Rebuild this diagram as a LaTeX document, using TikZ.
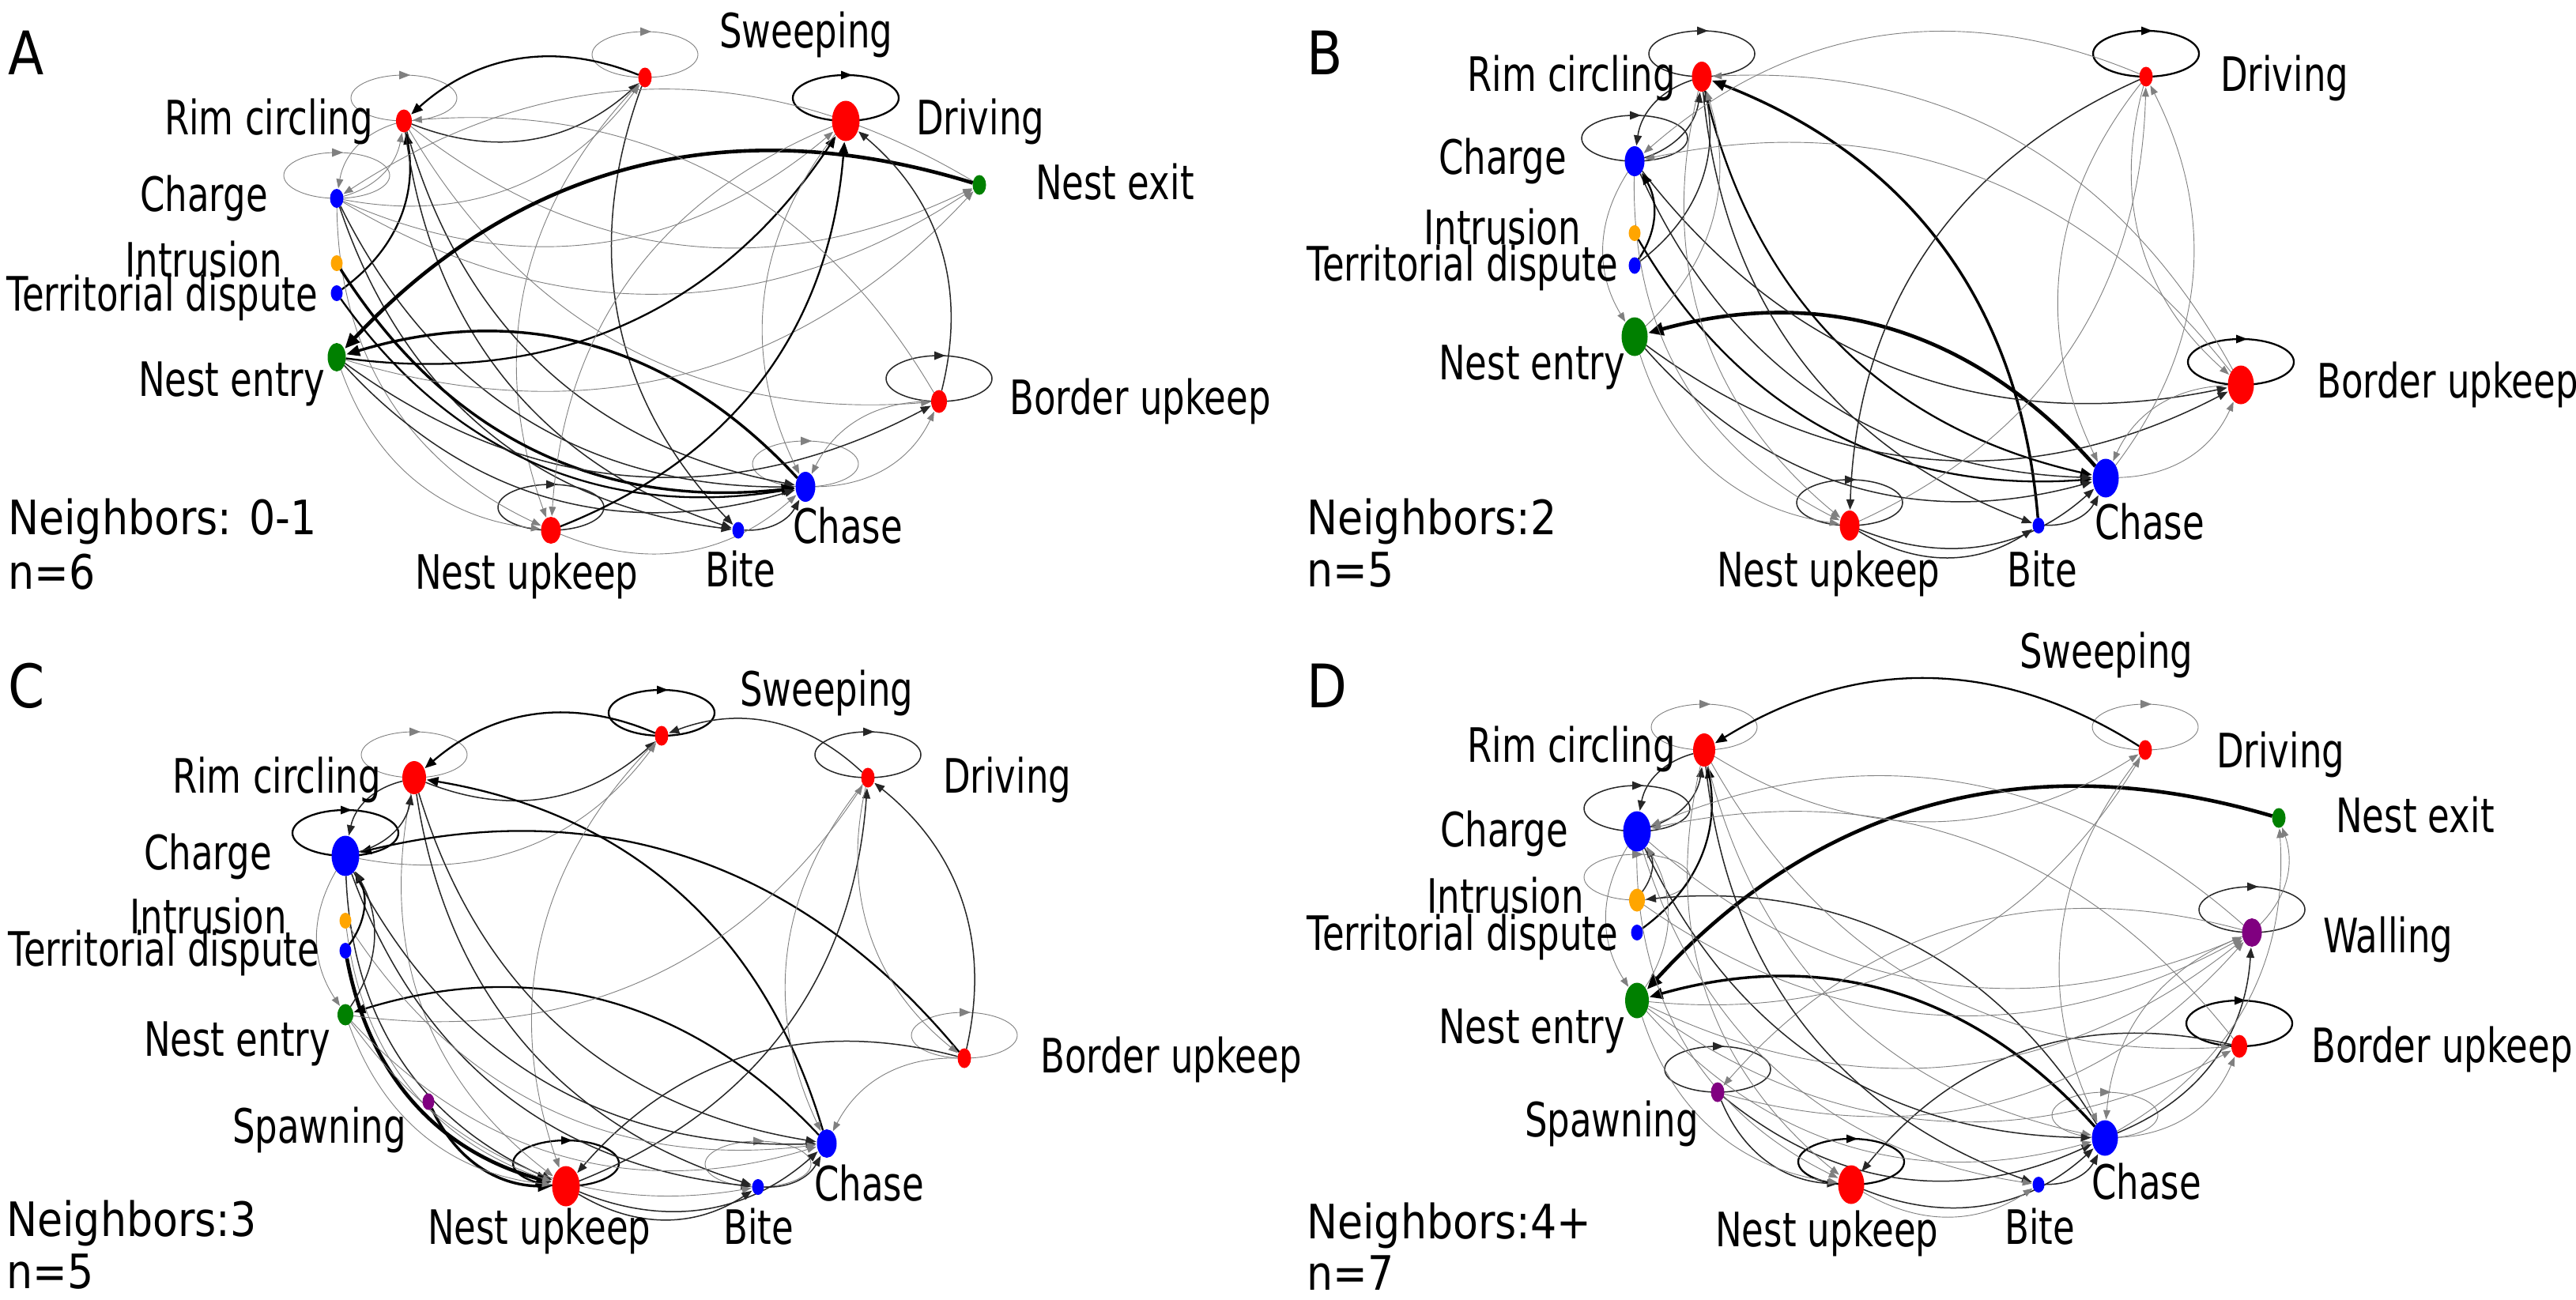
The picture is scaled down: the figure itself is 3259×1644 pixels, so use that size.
\documentclass[tikz,border=0pt]{standalone}
\usepackage{fontspec}
\setmainfont{DejaVu Sans}
\newfontfamily\labfont{DejaVu Sans}[FakeStretch=0.75]
\newfontfamily\nbfont{DejaVu Sans}[FakeStretch=0.87]
\usetikzlibrary{arrows.meta,shapes.geometric,calc}
\pgfdeclarelayer{bglayer}
\pgfdeclarelayer{edgelayer}
\pgfsetlayers{bglayer,edgelayer,main}
\definecolor{nred}{RGB}{255,0,0}
\definecolor{nblue}{RGB}{0,0,255}
\definecolor{ngreen}{RGB}{0,128,0}
\definecolor{norange}{RGB}{255,165,0}
\definecolor{npurple}{RGB}{128,0,128}
\tikzset{
  dot/.style={ellipse, inner sep=0pt, outer sep=0pt, draw=none},
  lab/.style={anchor=base west, inner sep=0pt, font=\labfont\fontsize{60}{60}\selectfont},
  nb/.style={anchor=base west, inner sep=0pt, font=\nbfont\fontsize{60}{60}\selectfont},
  plab/.style={anchor=base west, inner sep=0pt, font=\nbfont\fontsize{76}{76}\selectfont},
  ed/.style={bend right=32, -{Triangle[length=10pt 2, width=7pt 2]}, shorten >=1pt},
  w1/.style={line width=0.9pt, color=black!50},
  w2/.style={line width=1.5pt, color=black!85},
  w3/.style={line width=2.3pt, color=black},
  w4/.style={line width=3.4pt, color=black},
  w5/.style={line width=4.6pt, color=black}
}
\newcommand{\nd}[6]{\node[dot, minimum width=#4pt, minimum height=#5pt, fill=#6] (#1) at (#2,#3) {};}
\newcommand{\edg}[3]{\draw[ed,#1] (#2) to (#3);}
\newcommand{\lpp}[2]{\draw[#2] ($(#1)+(0,-29)$) ellipse [x radius=67pt, y radius=29pt];
  \fill[#2] ($(#1)+(8,-58)$) -- ($(#1)+(-6,-63.5)$) -- ($(#1)+(-6,-52.5)$) -- cycle;}
\begin{document}
\begin{tikzpicture}[x=1pt,y=-1pt]
\begin{pgfonlayer}{bglayer}
\fill[white] (0,0) rectangle (3259,1644);
\end{pgfonlayer}
\useasboundingbox (0,0) rectangle (3259,1644);

% ---------------- Panel A ----------------
\nd{aRC}{511}{153}{20}{29}{nred}
\nd{aSW}{816}{98}{17}{25}{nred}
\nd{aDR}{1070}{153}{35}{51}{nred}
\nd{aNX}{1239}{234}{17}{25}{ngreen}
\nd{aCH}{426}{251}{17}{24}{nblue}
\nd{aIN}{426}{333}{15}{20}{norange}
\nd{aTD}{426}{371}{15}{20}{nblue}
\nd{aNE}{426}{452}{23}{36}{ngreen}
\nd{aBU}{1188}{508}{20}{29}{nred}
\nd{aCS}{1019}{616}{25}{38}{nblue}
\nd{aBI}{934}{671}{15}{21}{nblue}
\nd{aNU}{697}{671}{25}{34}{nred}
\node[plab] (aP) at (10,94) {A};
\node[lab] (aRCl) at (208,170) {Rim circling};
\node[lab] (aSWl) at (910,60) {Sweeping};
\node[lab] (aDRl) at (1159,170) {Driving};
\node[lab] (aNXl) at (1310,252) {Nest exit};
\node[lab] (aCHl) at (177,267) {Charge};
\node[lab] (aINl) at (158,350) {Intrusion};
\node[lab] (aTDl) at (8,393) {Territorial dispute};
\node[lab] (aNEl) at (175,501) {Nest entry};
\node[lab] (aBUl) at (1277,524) {Border upkeep};
\node[lab] (aCSl) at (1003,687) {Chase};
\node[lab] (aBIl) at (892,742) {Bite};
\node[lab] (aNUl) at (525,745) {Nest upkeep};
\node[nb] (aNb) at (10,676) {Neighbors: 0-1};
\node[nb] (aN) at (10,745) {n=6};
\begin{pgfonlayer}{edgelayer}
\lpp{aRC}{w1}\lpp{aCH}{w1}\lpp{aSW}{w1}\lpp{aDR}{w3}\lpp{aBU}{w2}\lpp{aCS}{w1}\lpp{aNU}{w2}
\edg{w3}{aSW}{aRC}
\edg{w2}{aRC}{aSW}
\edg{w1}{aCH}{aSW}
\edg{w1}{aSW}{aNU}
\edg{w2}{aSW}{aBI}
\edg{w1}{aRC}{aCH}
\edg{w1}{aCH}{aRC}
\edg{w3}{aTD}{aRC}
\edg{w2}{aRC}{aCS}
\edg{w2}{aRC}{aBI}
\edg{w1}{aRC}{aBU}
\edg{w1}{aRC}{aNX}
\edg{w2}{aCH}{aCS}
\edg{w1}{aCH}{aNU}
\edg{w2}{aCH}{aBI}
\edg{w1}{aCH}{aNX}
\edg{w1}{aNX}{aCH}
\edg{w1}{aCH}{aDR}
\edg{w4}{aIN}{aCS}
\edg{w3}{aTD}{aCS}
\edg{w2}{aNE}{aCS}
\edg{w4}{aCS}{aNE}
\edg{w3}{aNE}{aDR}
\edg{w2}{aNE}{aBU}
\edg{w1}{aNE}{aNX}
\edg{w1}{aNE}{aNU}
\edg{w5}{aNX}{aNE}
\edg{w1}{aDR}{aCS}
\edg{w2}{aBU}{aDR}
\edg{w3}{aNU}{aDR}
\edg{w1}{aCS}{aBU}
\edg{w1}{aBU}{aCS}
\edg{w1}{aBU}{aRC}
\edg{w2}{aBI}{aCS}
\edg{w1}{aNU}{aCS}
\edg{w1}{aDR}{aNU}
\end{pgfonlayer}

% ---------------- Panel B ----------------
\nd{bRC}{2153}{97}{25}{38}{nred}
\nd{bDR}{2715}{97}{17}{25}{nred}
\nd{bCH}{2068}{204}{25}{38}{nblue}
\nd{bIN}{2068}{295}{15}{20}{norange}
\nd{bTD}{2068}{336}{15}{21}{nblue}
\nd{bNE}{2068}{426}{33}{49}{ngreen}
\nd{bBU}{2835}{487}{33}{49}{nred}
\nd{bCS}{2664}{605}{33}{49}{nblue}
\nd{bBI}{2579}{665}{15}{20}{nblue}
\nd{bNU}{2340}{665}{25}{38}{nred}
\node[plab] (bP) at (1653,94) {B};
\node[lab] (bRCl) at (1856,115) {Rim circling};
\node[lab] (bDRl) at (2809,115) {Driving};
\node[lab] (bCHl) at (1820,220) {Charge};
\node[lab] (bINl) at (1801,309) {Intrusion};
\node[lab] (bTDl) at (1653,355) {Territorial dispute};
\node[lab] (bNEl) at (1820,480) {Nest entry};
\node[lab] (bBUl) at (2931,503) {Border upkeep};
\node[lab] (bCSl) at (2650,682) {Chase};
\node[lab] (bBIl) at (2539,742) {Bite};
\node[lab] (bNUl) at (2172,742) {Nest upkeep};
\node[nb] (bNb) at (1653,676) {Neighbors:2};
\node[nb] (bN) at (1653,742) {n=5};
\begin{pgfonlayer}{edgelayer}
\lpp{bRC}{w2}\lpp{bCH}{w2}\lpp{bDR}{w3}\lpp{bBU}{w3}\lpp{bNU}{w2}
\edg{w5}{bCS}{bNE}
\edg{w4}{bBI}{bRC}
\edg{w3}{bRC}{bCS}
\edg{w3}{bIN}{bCS}
\edg{w2}{bCH}{bCS}
\edg{w2}{bNE}{bCS}
\edg{w2}{bNE}{bBU}
\edg{w2}{bCH}{bBU}
\edg{w2}{bRC}{bBI}
\edg{w3}{bTD}{bCH}
\edg{w2}{bRC}{bCH}
\edg{w2}{bCH}{bRC}
\edg{w2}{bTD}{bRC}
\edg{w1}{bNE}{bRC}
\edg{w1}{bCH}{bNE}
\edg{w1}{bRC}{bNU}
\edg{w1}{bCH}{bNU}
\edg{w1}{bNE}{bNU}
\edg{w2}{bNU}{bBI}
\edg{w2}{bNU}{bCS}
\edg{w2}{bBI}{bCS}
\edg{w1}{bCS}{bBU}
\edg{w1}{bBU}{bCS}
\edg{w1}{bDR}{bCS}
\edg{w1}{bCS}{bDR}
\edg{w1}{bDR}{bBU}
\edg{w2}{bDR}{bNU}
\edg{w1}{bNU}{bDR}
\edg{w1}{bDR}{bCH}
\edg{w1}{bBU}{bRC}
\edg{w1}{bBU}{bCH}
\end{pgfonlayer}

% ---------------- Panel C ----------------
\nd{cRC}{524}{984}{30}{42}{nred}
\nd{cSW}{837}{931}{17}{25}{nred}
\nd{cDR}{1098}{984}{17}{25}{nred}
\nd{cCH}{437}{1083}{35}{51}{nblue}
\nd{cIN}{437}{1165}{15}{20}{norange}
\nd{cTD}{437}{1203}{15}{20}{nblue}
\nd{cNE}{437}{1284}{20}{27}{ngreen}
\nd{cSP}{542}{1394}{15}{21}{npurple}
\nd{cNU}{716}{1501}{35}{51}{nred}
\nd{cBI}{959}{1502}{15}{20}{nblue}
\nd{cCS}{1046}{1447}{25}{36}{nblue}
\nd{cBU}{1220}{1339}{17}{25}{nred}
\node[plab] (cP) at (10,895) {C};
\node[lab] (cSWl) at (936,893) {Sweeping};
\node[lab] (cRCl) at (218,1003) {Rim circling};
\node[lab] (cDRl) at (1193,1003) {Driving};
\node[lab] (cCHl) at (182,1100) {Charge};
\node[lab] (cINl) at (164,1181) {Intrusion};
\node[lab] (cTDl) at (10,1222) {Territorial dispute};
\node[lab] (cNEl) at (182,1336) {Nest entry};
\node[lab] (cBUl) at (1316,1357) {Border upkeep};
\node[lab] (cSPl) at (294,1446) {Spawning};
\node[lab] (cNUl) at (541,1574) {Nest upkeep};
\node[lab] (cBIl) at (915,1574) {Bite};
\node[lab] (cCSl) at (1030,1519) {Chase};
\node[nb] (cNb) at (8,1564) {Neighbors:3};
\node[nb] (cN) at (8,1630) {n=5};
\begin{pgfonlayer}{edgelayer}
\lpp{cSW}{w3}\lpp{cRC}{w1}\lpp{cCH}{w3}\lpp{cDR}{w2}\lpp{cBU}{w1}\lpp{cNU}{w3}\lpp{cBI}{w1}
\edg{w5}{cTD}{cNU}
\edg{w4}{cSP}{cNU}
\edg{w3}{cSW}{cRC}
\edg{w2}{cRC}{cSW}
\edg{w2}{cDR}{cSW}
\edg{w1}{cCH}{cSW}
\edg{w3}{cCS}{cRC}
\edg{w2}{cRC}{cCS}
\edg{w2}{cRC}{cBI}
\edg{w1}{cRC}{cNU}
\edg{w3}{cBU}{cCH}
\edg{w3}{cCS}{cNE}
\edg{w2}{cBU}{cNU}
\edg{w2}{cNU}{cDR}
\edg{w1}{cNE}{cDR}
\edg{w1}{cDR}{cCS}
\edg{w2}{cBU}{cDR}
\edg{w1}{cDR}{cBU}
\edg{w1}{cBU}{cCS}
\edg{w1}{cSW}{cNU}
\edg{w2}{cCH}{cCS}
\edg{w2}{cCH}{cNU}
\edg{w2}{cCH}{cBI}
\edg{w1}{cNE}{cNU}
\edg{w1}{cNE}{cCS}
\edg{w1}{cNE}{cBI}
\edg{w1}{cIN}{cNU}
\edg{w1}{cIN}{cCS}
\edg{w3}{cTD}{cCH}
\edg{w2}{cNE}{cCH}
\edg{w1}{cCH}{cNE}
\edg{w2}{cCH}{cRC}
\edg{w2}{cRC}{cCH}
\edg{w2}{cNU}{cCS}
\edg{w2}{cNU}{cBI}
\edg{w2}{cBI}{cCS}
\end{pgfonlayer}

% ---------------- Panel D ----------------
\nd{dRC}{2156}{949}{28}{42}{nred}
\nd{dDR}{2714}{949}{17}{25}{nred}
\nd{dNX}{2883}{1035}{17}{25}{ngreen}
\nd{dCH}{2071}{1052}{35}{51}{nblue}
\nd{dIN}{2071}{1139}{20}{29}{norange}
\nd{dTD}{2071}{1180}{15}{20}{nblue}
\nd{dNE}{2071}{1266}{30}{45}{ngreen}
\nd{dWA}{2849}{1180}{25}{36}{npurple}
\nd{dBU}{2833}{1324}{20}{29}{nred}
\nd{dSP}{2173}{1382}{17}{25}{npurple}
\nd{dNU}{2342}{1499}{33}{49}{nred}
\nd{dBI}{2579}{1499}{15}{20}{nblue}
\nd{dCS}{2663}{1440}{33}{45}{nblue}
\node[plab] (dP) at (1653,895) {D};
\node[lab] (dSWl) at (2555,845) {Sweeping};
\node[lab] (dRCl) at (1856,964) {Rim circling};
\node[lab] (dDRl) at (2804,971) {Driving};
\node[lab] (dNXl) at (2955,1053) {Nest exit};
\node[lab] (dCHl) at (1822,1071) {Charge};
\node[lab] (dINl) at (1805,1155) {Intrusion};
\node[lab] (dTDl) at (1653,1202) {Territorial dispute};
\node[lab] (dWAl) at (2939,1205) {Walling};
\node[lab] (dNEl) at (1820,1320) {Nest entry};
\node[lab] (dBUl) at (2924,1344) {Border upkeep};
\node[lab] (dSPl) at (1929,1438) {Spawning};
\node[lab] (dCSl) at (2646,1517) {Chase};
\node[lab] (dNUl) at (2170,1577) {Nest upkeep};
\node[lab] (dBIl) at (2536,1574) {Bite};
\node[nb] (dNb) at (1653,1567) {Neighbors:4+};
\node[nb] (dN) at (1653,1632) {n=7};
\begin{pgfonlayer}{edgelayer}
\lpp{dRC}{w1}\lpp{dDR}{w1}\lpp{dCH}{w2}\lpp{dIN}{w1}\lpp{dWA}{w2}\lpp{dBU}{w3}\lpp{dSP}{w2}\lpp{dNU}{w3}\lpp{dCS}{w1}
\edg{w5}{dNX}{dNE}
\edg{w4}{dCS}{dNE}
\edg{w3}{dDR}{dRC}
\edg{w1}{dRC}{dDR}
\edg{w3}{dTD}{dRC}
\edg{w2}{dCS}{dIN}
\edg{w2}{dCS}{dWA}
\edg{w1}{dWA}{dCS}
\edg{w1}{dCS}{dNX}
\edg{w1}{dWA}{dNX}
\edg{w2}{dBU}{dNU}
\edg{w1}{dCS}{dBU}
\edg{w1}{dDR}{dCS}
\edg{w1}{dCH}{dWA}
\edg{w1}{dNE}{dWA}
\edg{w1}{dSP}{dWA}
\edg{w1}{dIN}{dWA}
\edg{w1}{dWA}{dSP}
\edg{w2}{dSP}{dNU}
\edg{w2}{dSP}{dCS}
\edg{w2}{dNU}{dCS}
\edg{w1}{dNU}{dBI}
\edg{w2}{dBI}{dCS}
\edg{w1}{dRC}{dBU}
\edg{w1}{dRC}{dCS}
\edg{w2}{dRC}{dBI}
\edg{w2}{dCH}{dCS}
\edg{w1}{dCH}{dBI}
\edg{w2}{dRC}{dCH}
\edg{w2}{dCH}{dRC}
\edg{w2}{dIN}{dCH}
\edg{w1}{dNE}{dCH}
\edg{w1}{dCH}{dNE}
\edg{w1}{dRC}{dNU}
\edg{w1}{dCH}{dNU}
\edg{w1}{dNE}{dNU}
\edg{w1}{dNE}{dCS}
\edg{w1}{dNE}{dDR}
\edg{w1}{dWA}{dCH}
\edg{w1}{dBU}{dCH}
\edg{w1}{dNE}{dBU}
\end{pgfonlayer}
\end{tikzpicture}
\end{document}
